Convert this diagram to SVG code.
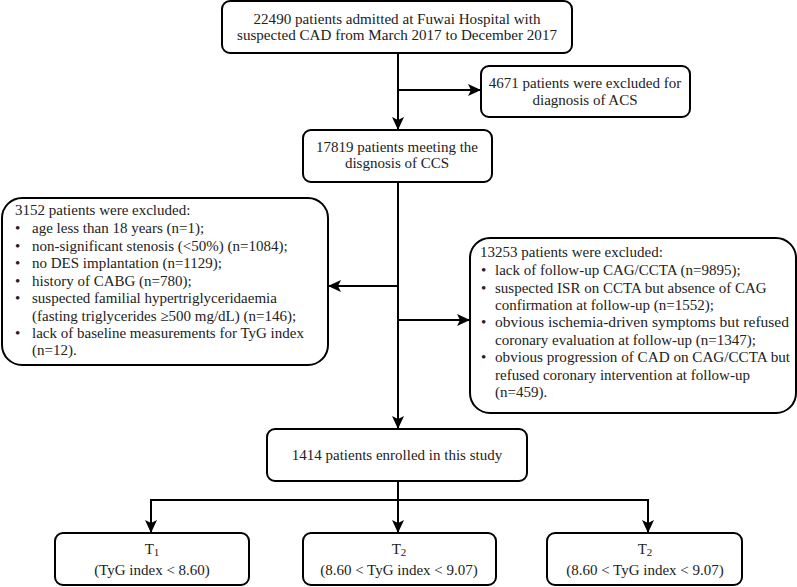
<svg xmlns="http://www.w3.org/2000/svg" width="797" height="587" viewBox="0 0 797 587">
<defs>
<marker id="ah" markerWidth="14" markerHeight="12" refX="12" refY="6" orient="auto" markerUnits="userSpaceOnUse">
<path d="M0,0 L13,6 L0,12 L3,6 Z" fill="#000"/>
</marker>
<style>
.box{fill:#fff;stroke:#000;stroke-width:2}
.t{font-family:"Liberation Serif","Times New Roman",serif;font-size:15px;fill:#222}
.c{text-anchor:middle}
.ln{fill:none;stroke:#000;stroke-width:2}
.ar{fill:none;stroke:#000;stroke-width:2;marker-end:url(#ah)}
</style>
</defs>
<g id="connectors">
<path class="ar" d="M398,53 V129"/>
<path class="ar" d="M398,90 H480"/>
<path class="ln" d="M398,182 V420"/>
<path class="ar" d="M398,286 H329"/>
<path class="ar" d="M398,320 H469"/>
<path class="ar" d="M398,400 V428"/>
<path class="ln" d="M398,481 V500 M151,500 H648"/>
<path class="ar" d="M151,499 V532"/>
<path class="ar" d="M398,499 V532"/>
<path class="ar" d="M648,499 V532"/>
</g>
<g id="n1">
<rect class="box" x="222" y="1" width="350" height="52" rx="8"/>
<text class="t c" x="397" y="24" textLength="287" lengthAdjust="spacingAndGlyphs">22490 patients admitted at Fuwai Hospital with</text>
<text class="t c" x="397" y="40" textLength="320" lengthAdjust="spacingAndGlyphs">suspected CAD from March 2017 to December 2017</text>
</g>
<g id="n2">
<rect class="box" x="481" y="66" width="209" height="51" rx="8"/>
<text class="t c" x="585" y="88">4671 patients were excluded for</text>
<text class="t c" x="585" y="105">diagnosis of ACS</text>
</g>
<g id="n3">
<rect class="box" x="303" y="130" width="189" height="52" rx="8"/>
<text class="t c" x="397" y="152">17819 patients meeting the</text>
<text class="t c" x="397" y="168">disgnosis of CCS</text>
</g>
<g id="n4">
<rect class="box" x="2" y="198" width="326" height="167" rx="20"/>
<text class="t" x="15" y="215">3152 patients were excluded:</text>
<text class="t" x="15" y="233">•</text><text class="t" x="32" y="233">age less than 18 years (n=1);</text>
<text class="t" x="15" y="251">•</text><text class="t" x="32" y="251">non-significant stenosis (&lt;50%) (n=1084);</text>
<text class="t" x="15" y="268">•</text><text class="t" x="32" y="268">no DES implantation (n=1129);</text>
<text class="t" x="15" y="286">•</text><text class="t" x="32" y="286">history of CABG (n=780);</text>
<text class="t" x="15" y="303">•</text><text class="t" x="32" y="303">suspected familial hypertriglyceridaemia</text>
<text class="t" x="32" y="321">(fasting triglycerides ≥500 mg/dL) (n=146);</text>
<text class="t" x="15" y="338">•</text><text class="t" x="32" y="338">lack of baseline measurements for TyG index</text>
<text class="t" x="32" y="355">(n=12).</text>
</g>
<g id="n5">
<rect class="box" x="470" y="238" width="326" height="175" rx="20"/>
<text class="t" x="480" y="257">13253 patients were excluded:</text>
<text class="t" x="481" y="275">•</text><text class="t" x="495" y="275">lack of follow-up CAG/CCTA (n=9895);</text>
<text class="t" x="481" y="293">•</text><text class="t" x="495" y="293">suspected ISR on CCTA but absence of CAG</text>
<text class="t" x="495" y="310">confirmation at follow-up (n=1552);</text>
<text class="t" x="481" y="327">•</text><text class="t" x="495" y="327" textLength="294" lengthAdjust="spacingAndGlyphs">obvious ischemia-driven symptoms but refused</text>
<text class="t" x="495" y="345">coronary evaluation at follow-up (n=1347);</text>
<text class="t" x="481" y="362">•</text><text class="t" x="495" y="362" textLength="295" lengthAdjust="spacingAndGlyphs">obvious progression of CAD on CAG/CCTA but</text>
<text class="t" x="495" y="380">refused coronary intervention at follow-up</text>
<text class="t" x="495" y="397">(n=459).</text>
</g>
<g id="n6">
<rect class="box" x="267" y="429" width="260" height="52" rx="8"/>
<text class="t c" x="397" y="460">1414 patients enrolled in this study</text>
</g>
<g id="n7">
<rect class="box" x="55" y="533" width="194" height="52" rx="8"/>
<text class="t c" x="152" y="554">T<tspan font-size="11" dy="2">1</tspan></text>
<text class="t c" x="152" y="575">(TyG index &lt; 8.60)</text>
</g>
<g id="n8">
<rect class="box" x="303" y="533" width="193" height="52" rx="8"/>
<text class="t c" x="399" y="554">T<tspan font-size="11" dy="2">2</tspan></text>
<text class="t c" x="399" y="575">(8.60 &lt; TyG index &lt; 9.07)</text>
</g>
<g id="n9">
<rect class="box" x="547" y="533" width="195" height="52" rx="8"/>
<text class="t c" x="645" y="554">T<tspan font-size="11" dy="2">2</tspan></text>
<text class="t c" x="645" y="575">(8.60 &lt; TyG index &lt; 9.07)</text>
</g>
</svg>
